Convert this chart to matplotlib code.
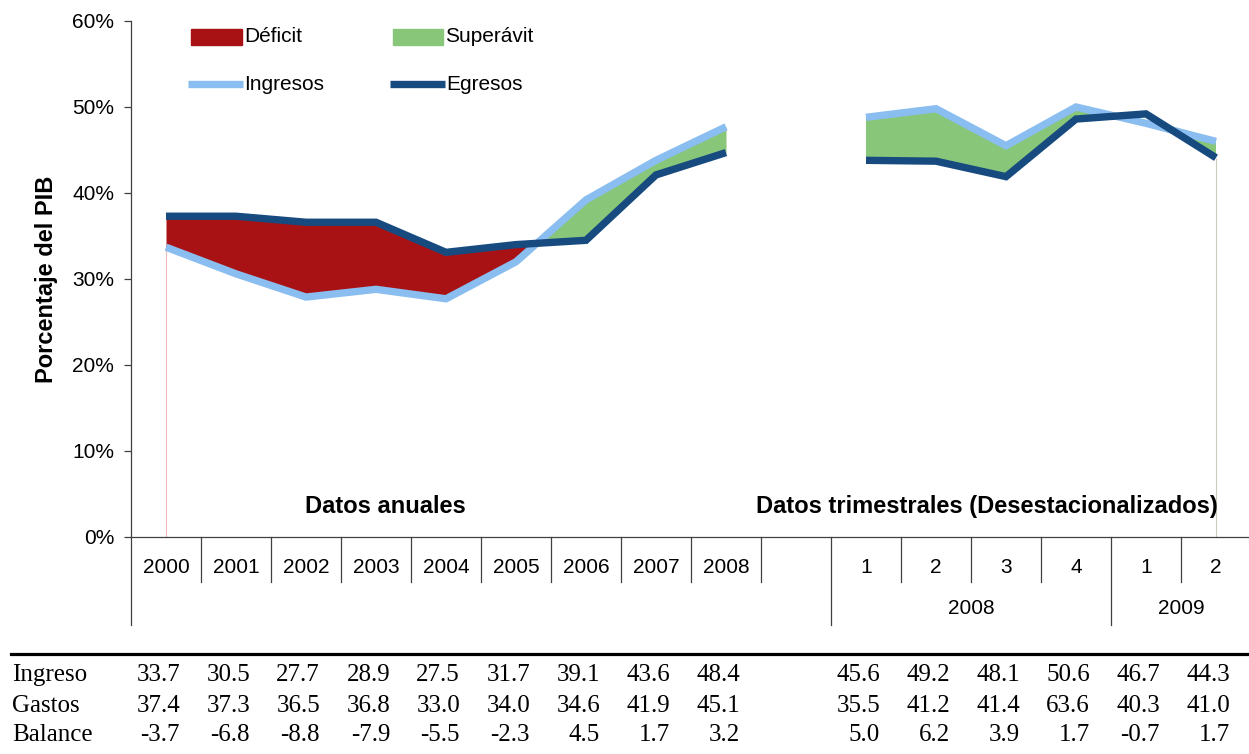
import numpy as np
import matplotlib
matplotlib.use("Agg")
import matplotlib.pyplot as plt
from matplotlib.patches import Rectangle
from matplotlib.lines import Line2D
import matplotlib.transforms as mtransforms

# ---------------- data ----------------
cat_labels = ["2000", "2001", "2002", "2003", "2004", "2005", "2006", "2007", "2008", "",
              "1", "2", "3", "4", "1", "2"]
group_labels = ["2008", "2009"]
annual_idx = np.arange(0, 9)
quarter_idx = np.arange(10, 16)

ingresos_anual = np.array([33.7, 30.6, 27.9, 28.8, 27.7, 32.0, 39.2, 43.8, 47.7])
egresos_anual = np.array([37.3, 37.3, 36.6, 36.6, 33.1, 34.0, 34.5, 42.1, 44.7])
ingresos_trim = np.array([48.8, 49.8, 45.5, 50.0, 48.1, 46.0])
egresos_trim = np.array([43.8, 43.7, 41.9, 48.6, 49.2, 44.1])

row_labels = ["Ingreso", "Gastos", "Balance"]
tab_ingreso = [33.7, 30.5, 27.7, 28.9, 27.5, 31.7, 39.1, 43.6, 48.4,
               45.6, 49.2, 48.1, 50.6, 46.7, 44.3]
tab_gastos = [37.4, 37.3, 36.5, 36.8, 33.0, 34.0, 34.6, 41.9, 45.1,
              35.5, 41.2, 41.4, 63.6, 40.3, 41.0]
tab_balance = [-3.7, -6.8, -8.8, -7.9, -5.5, -2.3, 4.5, 1.7, 3.2,
               5.0, 6.2, 3.9, 1.7, -0.7, 1.7]

# ---------------- style ----------------
SANS = "Liberation Sans"
SERIF = "Liberation Serif"
RED = "#A81214"
GREEN = "#88C67A"
LIGHT = "#8ABDF0"
DARK = "#174B80"
AXC = "#404040"

W, H = 1249, 754
fig = plt.figure(figsize=(W / 100, H / 100), dpi=100)
plt.rcParams["font.family"] = [SANS, "DejaVu Sans"]

def fx(x):
    return x / W

def fy(y):
    return 1 - y / H

ax = fig.add_axes([fx(131), fy(537), fx(1251 - 131), (537 - 21) / H])
ax.set_xlim(-0.5, 15.5)
ax.set_ylim(0, 60)
for s in ["top", "right"]:
    ax.spines[s].set_visible(False)
for s in ["left", "bottom"]:
    ax.spines[s].set_color(AXC)
    ax.spines[s].set_linewidth(0.9)

ax.set_yticks(np.arange(0, 61, 10))
ax.set_yticklabels([f"{v}%" for v in range(0, 61, 10)])
ax.tick_params(axis="y", length=5, width=0.9, color=AXC, pad=7, labelsize=15)
ax.set_xticks(np.arange(len(cat_labels)))
ax.set_xticklabels(cat_labels)
ax.tick_params(axis="x", length=0, pad=15, labelsize=15)

# category separators
btrans = mtransforms.blended_transform_factory(ax.transData, ax.transAxes)
short_d = -(582 - 537) / 516
long_d = -(625 - 537) / 516
for b in np.arange(0.5, 15.0, 1.0):
    d = long_d if b in (9.5, 13.5) else short_d
    ax.add_line(Line2D([b, b], [0, d], transform=btrans, color=AXC, lw=0.9, clip_on=False))
ax.add_line(Line2D([-0.5, -0.5], [0, long_d], transform=btrans, color=AXC, lw=0.9, clip_on=False))
grp_y = -(608 - 537) / 516
ax.text(11.5, grp_y, group_labels[0], transform=btrans, ha="center", va="center", fontsize=15)
ax.text(14.5, grp_y, group_labels[1], transform=btrans, ha="center", va="center", fontsize=15)

# thin drop lines at the area edges
ax.vlines(annual_idx[0], 0, ingresos_anual[0], color="#EDB9B9", lw=0.8, zorder=1)
ax.vlines(quarter_idx[-1], 0, egresos_trim[-1], color="#C8CCBE", lw=0.8, zorder=1)

# fills
ax.fill_between(annual_idx, ingresos_anual, egresos_anual, where=egresos_anual >= ingresos_anual,
                interpolate=True, color=RED, lw=0, zorder=2)
ax.fill_between(annual_idx, ingresos_anual, egresos_anual, where=ingresos_anual >= egresos_anual,
                interpolate=True, color=GREEN, lw=0, zorder=2)
ax.fill_between(quarter_idx, ingresos_trim, egresos_trim, where=ingresos_trim >= egresos_trim,
                interpolate=True, color=GREEN, lw=0, zorder=2)

# lines
for xs, ys in [(annual_idx, ingresos_anual), (quarter_idx, ingresos_trim)]:
    ax.plot(xs, ys, color=LIGHT, lw=5.3, solid_capstyle="butt", solid_joinstyle="miter", zorder=3)
for xs, ys in [(annual_idx, egresos_anual), (quarter_idx, egresos_trim)]:
    ax.plot(xs, ys, color=DARK, lw=5.3, solid_capstyle="butt", solid_joinstyle="miter", zorder=4)

# section titles
ax.text(3.14, 3.5, "Datos anuales", ha="center", va="center", fontsize=17, fontweight="bold")
ax.text(11.72, 3.5, "Datos trimestrales (Desestacionalizados)", ha="center", va="center",
        fontsize=17, fontweight="bold")

# y label
fig.text(fx(47), fy(279), "Porcentaje del PIB", rotation=90, ha="center", va="center",
         fontsize=17, fontweight="bold")

# legend (manual)
fig.add_artist(Rectangle((fx(191), fy(45)), fx(51), 16 / H, color=RED, transform=fig.transFigure))
fig.add_artist(Rectangle((fx(393), fy(45)), fx(50), 16 / H, color=GREEN, transform=fig.transFigure))
fig.add_artist(Line2D([fx(188), fx(243)], [fy(84), fy(84)], color=LIGHT, lw=5.3,
                      solid_capstyle="butt", transform=fig.transFigure))
fig.add_artist(Line2D([fx(390), fx(445)], [fy(84), fy(84)], color=DARK, lw=5.3,
                      solid_capstyle="butt", transform=fig.transFigure))
fig.text(fx(244), fy(37), "Déficit", ha="left", va="center", fontsize=15)
fig.text(fx(445), fy(37), "Superávit", ha="left", va="center", fontsize=15)
fig.text(fx(244), fy(84), "Ingresos", ha="left", va="center", fontsize=15)
fig.text(fx(446), fy(84), "Egresos", ha="left", va="center", fontsize=15)

# table
fig.add_artist(Line2D([fx(11), 1.0], [fy(654), fy(654)], color="black", lw=2.3,
                      transform=fig.transFigure))
ttrans = mtransforms.blended_transform_factory(ax.transData, fig.transFigure)
table_cols = list(annual_idx) + list(quarter_idx)
row_y = [fy(675), fy(706), fy(735)]
for r, (lab, vals) in enumerate(zip(row_labels, [tab_ingreso, tab_gastos, tab_balance])):
    fig.text(fx(12), row_y[r], lab, ha="left", va="center", fontsize=18, family=SERIF)
    for j, (c, v) in enumerate(zip(table_cols, vals)):
        ax.text(c + 0.2, row_y[r], f"{v:.1f}", transform=ttrans, ha="right", va="center",
                fontsize=18, family=SERIF, clip_on=False)

fig.savefig("out.png", dpi=100)
